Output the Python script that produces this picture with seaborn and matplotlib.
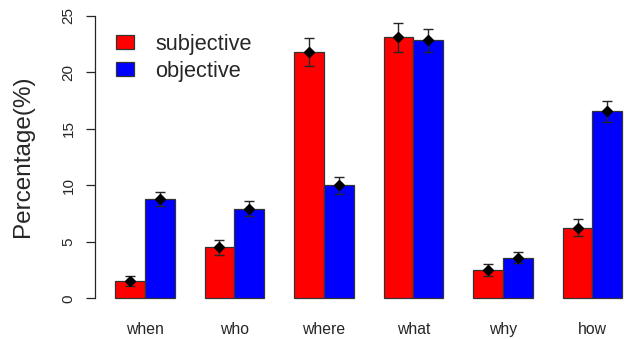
import matplotlib
matplotlib.use("Agg")
import matplotlib.pyplot as plt
import seaborn as sns
import pandas as pd
import numpy as np

# Question-type percentages with standard errors
categories = ["when", "who", "where", "what", "why", "how"]
series = ["subjective", "objective"]
subjective = [1.5, 4.5, 21.8, 23.1, 2.5, 6.25]
objective = [8.8, 7.95, 10.0, 22.85, 3.6, 16.55]
subjective_err = [0.45, 0.7, 1.25, 1.3, 0.5, 0.74]
objective_err = [0.65, 0.68, 0.72, 1.0, 0.5, 0.9]
yticks = [0, 5, 10, 15, 20, 25]
colors = ["#FF0000", "#0000FF"]

df = pd.DataFrame({
    "question": categories * 2,
    "type": [series[0]] * len(categories) + [series[1]] * len(categories),
    "pct": subjective + objective,
})

sns.set_style("white")
plt.rcParams["font.family"] = ["Liberation Sans", "DejaVu Sans"]
ink = "#262626"

fig = plt.figure(figsize=(6.29, 3.39), dpi=100)
ax = fig.add_axes([94.5 / 629, 1 - 309.6 / 339, 1 - 94.5 / 629, (309.6 - 4.7) / 339])

sns.barplot(data=df, x="question", y="pct", hue="type", order=categories,
            hue_order=series, palette=colors, width=2 / 3, gap=0,
            errorbar=None, edgecolor="#333333", linewidth=0.9, saturation=1,
            ax=ax)

# error bars and mean markers at the centre of each bar
for cont, vals, errs in zip(ax.containers, [subjective, objective],
                            [subjective_err, objective_err]):
    xs = [b.get_x() + b.get_width() / 2 for b in cont]
    ax.errorbar(xs, vals, yerr=errs, fmt="D", color="black", ms=5.5,
                ecolor=ink, elinewidth=1.0, capsize=3.5, capthick=1.0,
                zorder=5)

ax.set_xlim(-0.562, 5.408)
ax.set_ylim(-1, 26)
ax.set_yticks(yticks)
ax.set_yticklabels([str(t) for t in yticks], rotation=90, va="center",
                   fontsize=11, color=ink)
ax.tick_params(axis="y", which="major", length=6.7, width=0.9, color=ink,
               left=True, pad=7)
ax.tick_params(axis="x", length=0, pad=9, labelsize=11.3, labelcolor=ink)
for s in ["top", "right", "bottom"]:
    ax.spines[s].set_visible(False)
ax.spines["left"].set_bounds(0, 25)
ax.spines["left"].set_color(ink)
ax.spines["left"].set_linewidth(0.9)

ax.set_xlabel("")
ax.set_ylabel("")
fig.text(23 / 629, 1 - 156 / 339, "Percentage(%)", rotation=90,
         ha="center", va="center", fontsize=17.5, color=ink)

sns.move_legend(ax, "upper left", bbox_to_anchor=(116 / 629, 1 - 34 / 339),
                bbox_transform=fig.transFigure, frameon=False, title=None,
                fontsize=15.7, handlelength=0.83, handleheight=0.6,
                handletextpad=0.96, labelspacing=0.27, borderpad=0,
                borderaxespad=0)
for t in ax.get_legend().get_texts():
    t.set_color(ink)

fig.savefig("out.png", dpi=100)
